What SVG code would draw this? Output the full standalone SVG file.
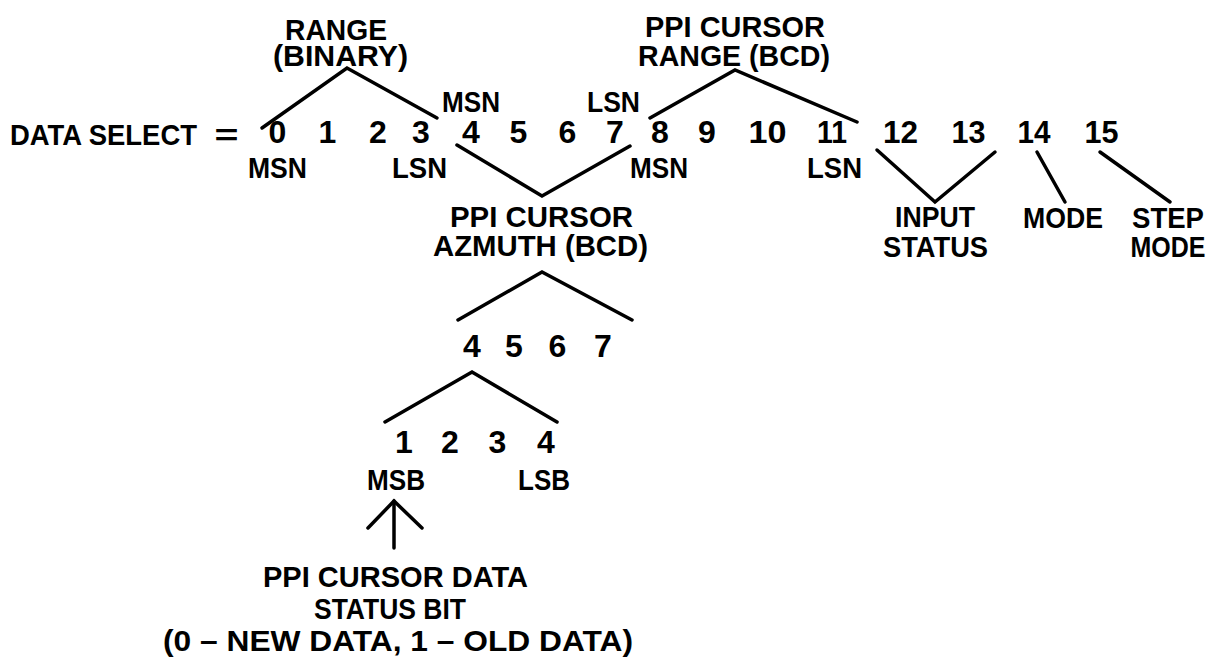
<svg xmlns="http://www.w3.org/2000/svg" width="1215" height="664" viewBox="0 0 1215 664">
<style>
text{font-family:"Liberation Sans",Arial,sans-serif;font-weight:bold;font-size:30px;fill:#000;text-anchor:middle}
.n{font-size:32px}
.c{fill:none;stroke:#000;stroke-width:3.5;stroke-linecap:round;stroke-linejoin:miter}
</style>
<rect width="1215" height="664" fill="#fff"/>
<g id="data-select">
<text x="103.5" y="145" textLength="187" lengthAdjust="spacingAndGlyphs">DATA SELECT</text>
<text x="226.5" y="145" textLength="24" lengthAdjust="spacingAndGlyphs">=</text>
</g>
<g id="bits">
<text class="n" x="277.5" y="143">0</text>
<text class="n" x="327.5" y="143">1</text>
<text class="n" x="378" y="143">2</text>
<text class="n" x="421" y="143">3</text>
<text class="n" x="471" y="143">4</text>
<text class="n" x="518.5" y="143">5</text>
<text class="n" x="567.5" y="143">6</text>
<text class="n" x="615" y="143">7</text>
<text class="n" x="660" y="143">8</text>
<text class="n" x="707" y="143">9</text>
<text class="n" x="767.5" y="143" textLength="38" lengthAdjust="spacingAndGlyphs">10</text>
<text class="n" x="832" y="143" textLength="30" lengthAdjust="spacingAndGlyphs">11</text>
<text class="n" x="900.5" y="143" textLength="35" lengthAdjust="spacingAndGlyphs">12</text>
<text class="n" x="968.5" y="143" textLength="34" lengthAdjust="spacingAndGlyphs">13</text>
<text class="n" x="1034" y="143" textLength="33" lengthAdjust="spacingAndGlyphs">14</text>
<text class="n" x="1101.5" y="143" textLength="34" lengthAdjust="spacingAndGlyphs">15</text>
</g>
<g id="range-binary">
<text x="336" y="40" textLength="102" lengthAdjust="spacingAndGlyphs">RANGE</text>
<text x="340.5" y="66" textLength="135" lengthAdjust="spacingAndGlyphs">(BINARY)</text>
<text x="277.5" y="178" textLength="59" lengthAdjust="spacingAndGlyphs">MSN</text>
<text x="419.5" y="178" textLength="55" lengthAdjust="spacingAndGlyphs">LSN</text>
</g>
<g id="ppi-cursor-range">
<text x="735" y="37" textLength="180" lengthAdjust="spacingAndGlyphs">PPI CURSOR</text>
<text x="734" y="66" textLength="192" lengthAdjust="spacingAndGlyphs">RANGE (BCD)</text>
<text x="659" y="178" textLength="58" lengthAdjust="spacingAndGlyphs">MSN</text>
<text x="834.5" y="178" textLength="55" lengthAdjust="spacingAndGlyphs">LSN</text>
</g>
<g id="ppi-cursor-azimuth">
<text x="471" y="112" textLength="58" lengthAdjust="spacingAndGlyphs">MSN</text>
<text x="613.5" y="112" textLength="53" lengthAdjust="spacingAndGlyphs">LSN</text>
<text x="541.5" y="227" textLength="183" lengthAdjust="spacingAndGlyphs">PPI CURSOR</text>
<text x="540.5" y="256" textLength="215" lengthAdjust="spacingAndGlyphs">AZMUTH (BCD)</text>
</g>
<g id="input-status">
<text x="935" y="227" textLength="80" lengthAdjust="spacingAndGlyphs">INPUT</text>
<text x="935.5" y="257" textLength="105" lengthAdjust="spacingAndGlyphs">STATUS</text>
</g>
<g id="mode">
<text x="1063" y="228" textLength="80" lengthAdjust="spacingAndGlyphs">MODE</text>
</g>
<g id="step-mode">
<text x="1168" y="228" textLength="72" lengthAdjust="spacingAndGlyphs">STEP</text>
<text x="1168" y="257" textLength="75" lengthAdjust="spacingAndGlyphs">MODE</text>
</g>
<g id="azimuth-digits">
<text class="n" x="472" y="357">4</text>
<text class="n" x="514" y="357">5</text>
<text class="n" x="557.5" y="357">6</text>
<text class="n" x="603" y="357">7</text>
</g>
<g id="digit-bits">
<text class="n" x="404" y="453">1</text>
<text class="n" x="450" y="453">2</text>
<text class="n" x="497.5" y="453">3</text>
<text class="n" x="546" y="453">4</text>
<text x="396" y="490" textLength="58" lengthAdjust="spacingAndGlyphs">MSB</text>
<text x="544" y="490" textLength="52" lengthAdjust="spacingAndGlyphs">LSB</text>
</g>
<g id="status-bit">
<text x="395.5" y="587" textLength="265" lengthAdjust="spacingAndGlyphs">PPI CURSOR DATA</text>
<text x="390" y="619" textLength="152" lengthAdjust="spacingAndGlyphs">STATUS BIT</text>
<text x="398" y="651" textLength="470" lengthAdjust="spacingAndGlyphs">(0 – NEW DATA, 1 – OLD DATA)</text>
</g>
<g id="connectors">
<polyline class="c" points="262,128 347,68 437,118"/>
<polyline class="c" points="650,118 735,70 857,122"/>
<polyline class="c" points="457,145 542,196 630,146"/>
<polyline class="c" points="458,320 542,272 632,320"/>
<polyline class="c" points="385,422 472,372 557,422"/>
<polyline class="c" points="877,150 935,202 995,152"/>
<line class="c" x1="1037" y1="152" x2="1065" y2="202"/>
<line class="c" x1="1100" y1="152" x2="1170" y2="202"/>
<line class="c" x1="394" y1="548" x2="394" y2="501"/>
<polyline class="c" points="368,528 394,501 422,528"/>
</g>
</svg>
